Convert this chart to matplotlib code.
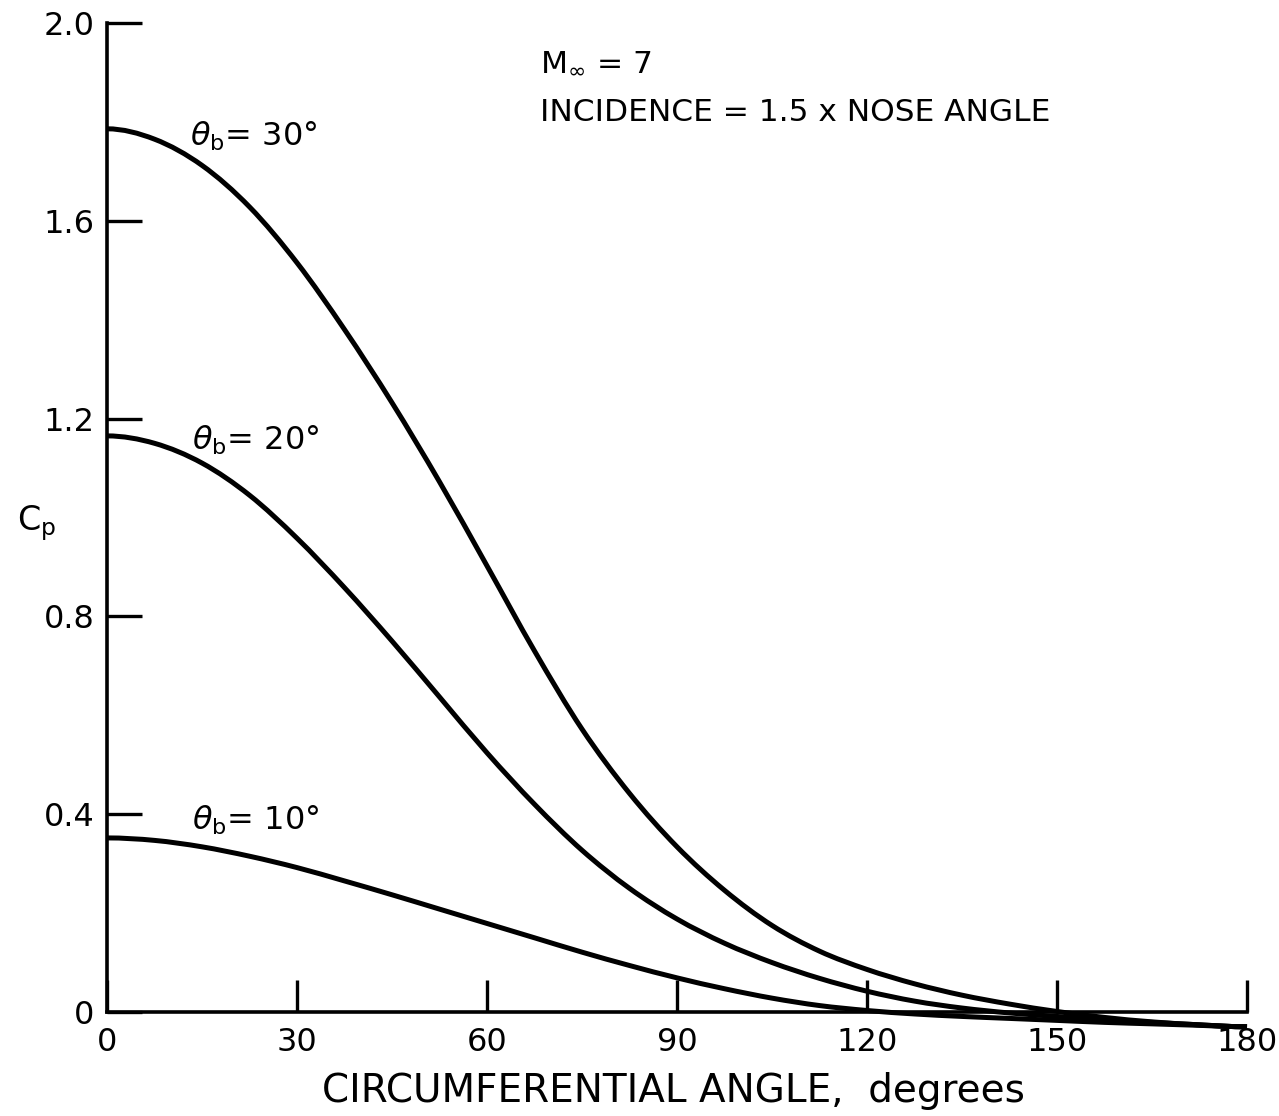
import numpy as np
import matplotlib
matplotlib.use("Agg")
import matplotlib.pyplot as plt
from matplotlib.path import Path
from matplotlib.patches import PathPatch

# Pressure coefficient around a cone at M = 7, incidence = 1.5 x nose angle
angle = [0, 7.5, 15, 22.5, 30, 37.5, 45, 52.5, 60, 67.5, 75, 82.5, 90,
         97.5, 105, 112.5, 120, 127.5, 135, 142.5, 150, 157.5, 165, 172.5, 180]

cp_30 = [1.786, 1.765, 1.712, 1.628, 1.515, 1.380, 1.232, 1.072, 0.902,
         0.730, 0.572, 0.442, 0.334, 0.246, 0.175, 0.123, 0.086, 0.057,
         0.034, 0.016, 0.001, -0.011, -0.020, -0.026, -0.030]
cp_20 = [1.165, 1.150, 1.110, 1.045, 0.958, 0.858, 0.750, 0.637, 0.524,
         0.420, 0.327, 0.250, 0.188, 0.139, 0.100, 0.068, 0.042, 0.022,
         0.008, -0.002, -0.009, -0.016, -0.021, -0.026, -0.030]
cp_10 = [0.352, 0.347, 0.334, 0.315, 0.292, 0.265, 0.237, 0.208, 0.179,
         0.150, 0.121, 0.094, 0.069, 0.047, 0.028, 0.013, 0.003, -0.004,
         -0.009, -0.013, -0.017, -0.021, -0.024, -0.027, -0.030]

x_ticks = [0, 30, 60, 90, 120, 150, 180]
y_ticks = [0, 0.4, 0.8, 1.2, 1.6, 2.0]
y_labels = ["0", "0.4", "0.8", "1.2", "1.6", "2.0"]


def smooth_path(x, y):
    # cubic segments through every point; the distribution is symmetric
    # about 0 and 180 deg, so the ends are mirrored to give a flat start/end
    p = np.column_stack([x, y]).astype(float)
    first = np.array([2 * p[0, 0] - p[1, 0], p[1, 1]])
    last = np.array([2 * p[-1, 0] - p[-2, 0], p[-2, 1]])
    ext = np.vstack([first, p, last])
    verts = [p[0]]
    codes = [Path.MOVETO]
    for i in range(1, len(ext) - 2):
        c1 = ext[i] + (ext[i + 1] - ext[i - 1]) / 6
        c2 = ext[i + 1] - (ext[i + 2] - ext[i]) / 6
        verts += [c1, c2, ext[i + 1]]
        codes += [Path.CURVE4] * 3
    return Path(verts, codes)


plt.rcParams['font.family'] = 'DejaVu Sans'
plt.rcParams['mathtext.fontset'] = 'dejavusans'

fig = plt.figure(figsize=(12.79, 11.16), dpi=100)
ax = fig.add_axes([0.0837, 0.0932, 0.8913, 0.8862])

for cp in (cp_30, cp_20, cp_10):
    ax.add_patch(PathPatch(smooth_path(angle, cp), fill=False,
                           edgecolor='black', lw=3.6, clip_on=False,
                           capstyle='butt'))

ax.set_xlim(0, 180)
ax.set_ylim(0, 2.0)
ax.spines['top'].set_visible(False)
ax.spines['right'].set_visible(False)
for s in ('left', 'bottom'):
    ax.spines[s].set_linewidth(2.6)

ax.set_xticks(x_ticks)
ax.set_xticklabels([str(v) for v in x_ticks])
ax.set_yticks(y_ticks)
ax.set_yticklabels(y_labels)
ax.tick_params(axis='y', direction='in', length=25, width=2.4,
               labelsize=23, pad=9)
ax.tick_params(axis='x', direction='in', length=23, width=2.4,
               labelsize=23, pad=11)

fig.text(673 / 1279, 1 - 1102 / 1116, "CIRCUMFERENTIAL ANGLE,  degrees",
         fontsize=28, ha='center', va='baseline')
fig.text(17 / 1279, 1 - 530 / 1116, r"C$_{\rm p}$", fontsize=24,
         ha='left', va='baseline')

# curve labels
ax.text(13.1, 1.752, r"$\theta_{\rm b}$= 30°", fontsize=23, va='baseline')
ax.text(13.4, 1.138, r"$\theta_{\rm b}$= 20°", fontsize=23, va='baseline')
ax.text(13.4, 0.369, r"$\theta_{\rm b}$= 10°", fontsize=23, va='baseline')

ax.text(68.4, 1.903, r"M$_{\infty}$ = 7", fontsize=22.5, va='baseline')
ax.text(68.4, 1.802, "INCIDENCE = 1.5 x NOSE ANGLE", fontsize=22.5,
        va='baseline')

fig.savefig("out.png", dpi=100, facecolor='white')
